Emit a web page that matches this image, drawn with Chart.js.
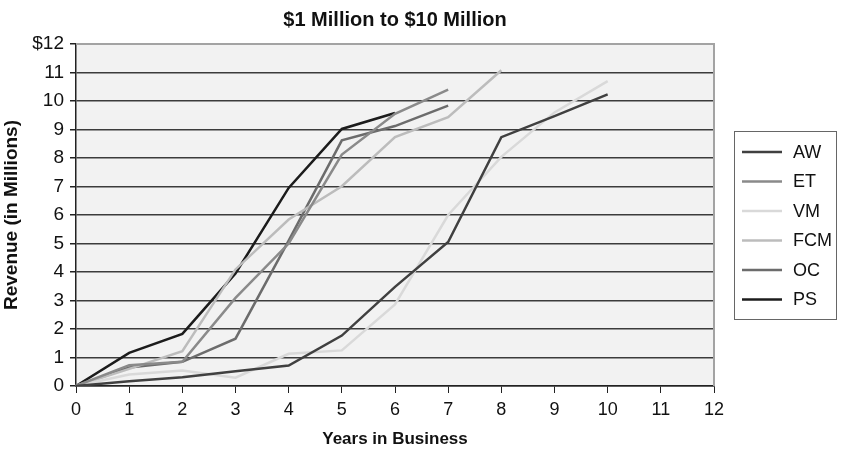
<!DOCTYPE html>
<html><head><meta charset="utf-8">
<script src="https://cdn.jsdelivr.net/npm/chart.js@4.4.1/dist/chart.umd.min.js"></script>
<style>html,body{margin:0;padding:0;background:#fff;}</style>
</head><body>
<canvas id="c" width="853" height="456"></canvas>
<script>
const chartTitle = '$1 Million to $10 Million';
const xTitle = 'Years in Business';
const yTitle = 'Revenue (in Millions)';
const years = ['0','1','2','3','4','5','6','7','8','9','10','11','12'];
const yTickLabels = ['0','1','2','3','4','5','6','7','8','9','10','11','$12'];
const seriesNames = ['AW','ET','VM','FCM','OC','PS'];
const AW  = [0, 0.17, 0.31, 0.52, 0.72, 1.77, 3.48, 5.05, 8.73, 9.47, 10.23];
const ET  = [0, 0.73, 0.85, 3.09, 5.0, 8.12, 9.55, 10.4];
const VM  = [0, 0.4, 0.54, 0.29, 1.13, 1.25, 2.86, 6.0, 8.04, 9.6, 10.7];
const FCM = [0, 0.6, 1.22, 4.09, 5.84, 7.01, 8.73, 9.43, 11.08];
const OC  = [0, 0.65, 0.85, 1.66, 5.1, 8.62, 9.12, 9.84];
const PS  = [0, 1.16, 1.83, 3.95, 6.95, 9.02, 9.58];

const seriesValues = [AW, ET, VM, FCM, OC, PS];
const lineColors = ['#404040', '#8a8a8a', '#d9d9d9', '#bcbcbc', '#6c6c6c', '#1c1c1c'];
const FONT = '"Liberation Sans", Arial, sans-serif';

const datasets = seriesNames.map((n, i) => ({
  label: n, data: seriesValues[i], borderColor: lineColors[i], backgroundColor: lineColors[i],
  borderWidth: 2.5, pointRadius: 0, tension: 0, fill: false
}));

const deco = {
  id: 'deco',
  beforeDraw(chart) {
    const {ctx, chartArea: a} = chart;
    ctx.save();
    ctx.fillStyle = '#f2f2f2';
    ctx.fillRect(a.left, a.top, a.right - a.left, a.bottom - a.top);
    ctx.restore();
  },
  beforeDatasetsDraw(chart) {
    const {ctx, chartArea: a} = chart;
    ctx.save();
    ctx.strokeStyle = '#a3a3a3';
    ctx.lineWidth = 2;
    ctx.beginPath();
    ctx.moveTo(a.left, a.top);
    ctx.lineTo(a.right, a.top);
    ctx.lineTo(a.right, a.bottom);
    ctx.stroke();
    ctx.restore();
  },
  afterDraw(chart) {
    const {ctx, chartArea: a} = chart;
    ctx.save();
    ctx.fillStyle = '#111';
    ctx.font = 'bold 20px ' + FONT;
    ctx.textAlign = 'center';
    ctx.textBaseline = 'middle';
    ctx.fillText(chartTitle, (a.left + a.right) / 2, 20);
    // legend
    const bx = 734, by = 131, bw = 102, bh = 188;
    ctx.strokeStyle = '#666';
    ctx.lineWidth = 1;
    ctx.strokeRect(bx + 0.5, by + 0.5, bw, bh);
    ctx.font = '18px ' + FONT;
    ctx.textAlign = 'left';
    chart.data.datasets.forEach((d, i) => {
      const y = by + 21 + i * 29.5;
      ctx.strokeStyle = d.borderColor;
      ctx.lineWidth = 2.5;
      ctx.beginPath();
      ctx.moveTo(742, y);
      ctx.lineTo(782, y);
      ctx.stroke();
      ctx.fillStyle = '#111';
      ctx.fillText(d.label, 793, y + 1);
    });
    ctx.restore();
  }
};

new Chart(document.getElementById('c'), {
  type: 'line',
  data: { labels: years, datasets },
  plugins: [deco],
  options: {
    responsive: false, animation: false, devicePixelRatio: 1,
    layout: { padding: { top: 44, right: 139, left: 0, bottom: 0 } },
    plugins: { legend: { display: false }, tooltip: { enabled: false }, title: { display: false } },
    scales: {
      x: {
        type: 'category',
        afterFit: s => { s.height = 70; },
        grid: { drawOnChartArea: false, drawTicks: true, tickLength: 7, color: '#222', lineWidth: 1 },
        border: { display: true, color: '#222', width: 1.5 },
        ticks: { color: '#111', font: { family: FONT, size: 18 }, padding: 6, maxRotation: 0, autoSkip: false },
        title: { display: true, text: xTitle, color: '#111', font: { family: FONT, size: 17, weight: 'bold' }, padding: { top: 4, bottom: 6 } }
      },
      y: {
        min: 0, max: 12,
        afterFit: s => { s.width = 76; },
        grid: {
          tickLength: 6, lineWidth: 1.5,
          color: c => (c.tick && c.tick.value === 12) ? '#a3a3a3' : '#3c3c3c',
          tickColor: '#222'
        },
        border: { display: true, color: '#222', width: 1.5 },
        ticks: { stepSize: 1, color: '#111', font: { family: FONT, size: 19 }, padding: 6,
          callback: (v, i) => yTickLabels[i] },
        title: { display: true, text: yTitle, color: '#111', font: { family: FONT, size: 19, weight: 'bold' }, padding: { top: 0, bottom: 3 } }
      }
    }
  }
});
</script>
</body></html>
